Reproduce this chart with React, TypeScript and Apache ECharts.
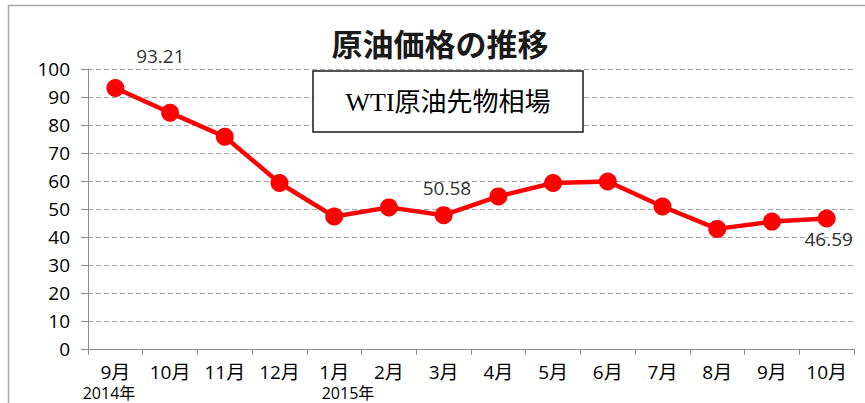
import React, { useEffect, useRef } from "react";
import * as echarts from "echarts";

const months = ["9月", "10月", "11月", "12月", "1月", "2月", "3月", "4月", "5月", "6月", "7月", "8月", "9月", "10月"];
const prices = [93.21, 84.4, 75.8, 59.3, 47.3, 50.58, 47.8, 54.5, 59.3, 59.8, 50.9, 42.9, 45.5, 46.59];
const yearLabels = ["2014年", "2015年"];
const yTicks = [0, 10, 20, 30, 40, 50, 60, 70, 80, 90, 100];

const FONT = "'Open Sans', 'Noto Sans CJK JP', sans-serif";

export default function App() {
  const ref = useRef<HTMLDivElement>(null);
  useEffect(() => {
    if (!ref.current) return;
    const chart = echarts.init(ref.current, null, { renderer: "svg" });
    const labelled: Record<number, any> = {
      0: { show: true, position: "top", offset: [45, -9] },
      5: { show: true, position: "top", offset: [58, 4] },
      13: { show: true, position: "bottom", offset: [2, -3] },
    };
    chart.setOption({
      animation: false,
      backgroundColor: "#ffffff",
      grid: { left: 88, right: 11, top: 69, bottom: 54, containLabel: false },
      xAxis: {
        type: "category",
        data: months,
        boundaryGap: true,
        axisLine: { lineStyle: { color: "#8c8c8c", width: 1 } },
        axisTick: { show: true, alignWithLabel: false, length: 6, lineStyle: { color: "#8c8c8c" } },
        axisLabel: { color: "#000000", fontSize: 19, fontFamily: FONT, margin: 13, lineHeight: 19 },
      },
      yAxis: {
        type: "value",
        min: yTicks[0],
        max: yTicks[yTicks.length - 1],
        interval: 10,
        axisLine: { show: true, lineStyle: { color: "#8c8c8c", width: 1 } },
        axisTick: { show: true, length: 7, inside: false, lineStyle: { color: "#8c8c8c" } },
        axisLabel: { color: "#000000", fontSize: 19, fontFamily: FONT, margin: 18 },
        splitLine: { show: true, lineStyle: { color: "#a6a6a6", type: [5, 3], width: 1 } },
      },
      series: [
        {
          type: "line",
          data: prices.map((v, i) => ({
            value: v,
            label: labelled[i] ? { ...labelled[i], formatter: String(v) } : { show: false },
          })),
          lineStyle: { color: "#ff0000", width: 4.5 },
          itemStyle: { color: "#ff0000" },
          symbol: "circle",
          symbolSize: 18,
          label: { color: "#333333", fontSize: 19, fontFamily: FONT },
          z: 5,
        },
      ],
      graphic: [
        {
          type: "rect",
          shape: { x: 8.5, y: 5.5, width: 900, height: 500 },
          style: { fill: "none", stroke: "#a6a6a6", lineWidth: 1.5 },
          silent: true,
        },
        {
          type: "text",
          x: 440,
          y: 42,
          style: {
            text: "原油価格の推移",
            font: "bold 31px 'Noto Sans CJK JP', sans-serif",
            fill: "#1a1a1a",
            align: "center",
            verticalAlign: "middle",
          },
        },
        {
          type: "rect",
          shape: { x: 313, y: 71, width: 270, height: 61 },
          style: { fill: "#ffffff", stroke: "#1a1a1a", lineWidth: 1.5 },
          z: 10,
        },
        {
          type: "text",
          x: 448,
          y: 102,
          z: 11,
          style: {
            text: "WTI原油先物相場",
            font: "26px 'Liberation Serif', 'Noto Sans CJK JP', serif",
            fill: "#000000",
            align: "center",
            verticalAlign: "middle",
          },
        },
        {
          type: "text",
          x: 109,
          y: 393,
          style: {
            text: yearLabels[0],
            font: "16px 'Open Sans', 'Noto Sans CJK JP', sans-serif",
            fill: "#000000",
            align: "center",
            verticalAlign: "middle",
          },
        },
        {
          type: "text",
          x: 348,
          y: 393,
          style: {
            text: yearLabels[1],
            font: "16px 'Open Sans', 'Noto Sans CJK JP', sans-serif",
            fill: "#000000",
            align: "center",
            verticalAlign: "middle",
          },
        },
      ],
    });
    return () => chart.dispose();
  }, []);
  return (
    <div
      ref={ref}
      style={{ position: "fixed", left: 0, top: 0, width: 865, height: 403 }}
    />
  );
}
